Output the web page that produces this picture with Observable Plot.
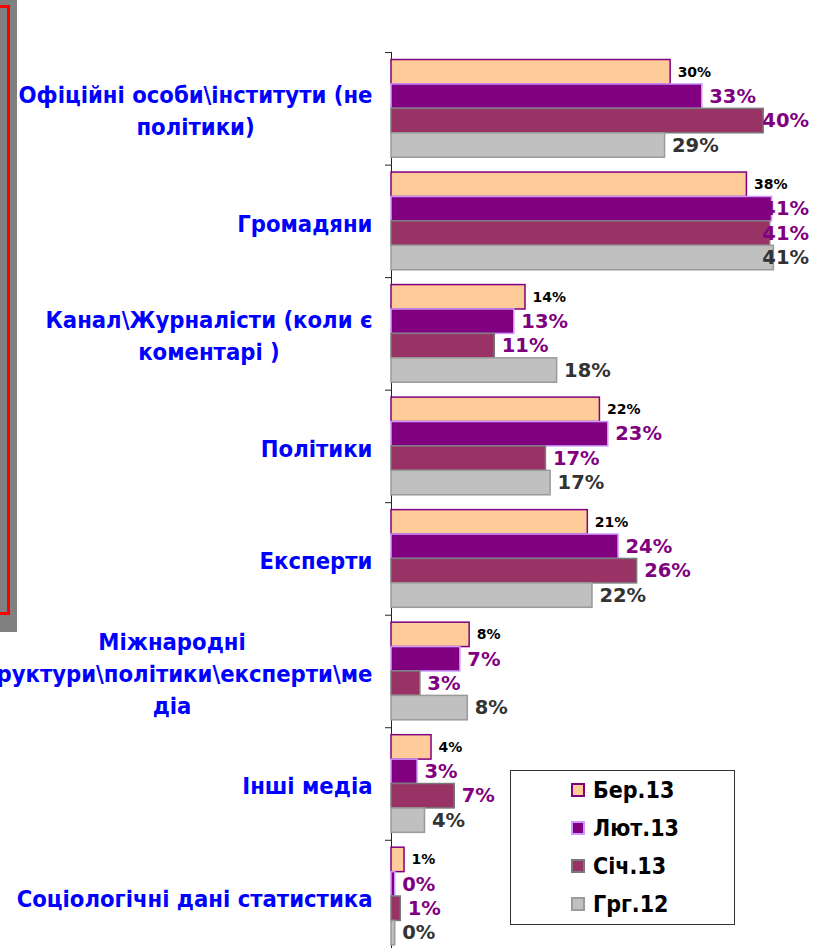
<!DOCTYPE html>
<html>
<head>
<meta charset="utf-8">
<script src="https://cdn.jsdelivr.net/npm/d3@7"></script>
<script src="https://cdn.jsdelivr.net/npm/@observablehq/plot@0.6"></script>
<style>
  html, body { margin: 0; padding: 0; background: #fff; overflow: hidden; }
  #wrap { position: relative; width: 821px; height: 948px; overflow: hidden; }
  #chart { position: absolute; left: 0; top: 0; }
  .deco-gray { position: absolute; left: 0; top: 0; width: 16.5px; height: 632px; background: #808080; }
  .deco-red { position: absolute; left: -30px; top: 5px; width: 34px; height: 604px; border: 3px solid #ff0000; }
  #legend { position: absolute; left: 510px; top: 770px; width: 223px; height: 153px; border: 1px solid #333; background: #fff; box-sizing: content-box; }
  #legend .row { position: absolute; left: 60px; height: 30px; display: flex; align-items: center; }
  #legend .sw { width: 10px; height: 10px; border: 2px solid; margin-right: 8px; }
  #legend .lab { font-family: "DejaVu Sans Condensed", "Liberation Sans", sans-serif; font-weight: bold; font-size: 23px; color: #000; }
</style>
</head>
<body>
<div id="wrap">
  <div id="chart"></div>
  <div class="deco-gray"></div>
  <div class="deco-red"></div>
  <div id="legend"></div>
</div>
<script>
// ---- data ----
const categories = [
  "Офіційні особи\\інститути (не політики)",
  "Громадяни",
  "Канал\\Журналісти (коли є коментарі )",
  "Політики",
  "Експерти",
  "Міжнародні структури\\політики\\експерти\\медіа",
  "Інші медіа",
  "Соціологічні дані статистика"
];
const categoryLines = [
  "Офіційні особи\\інститути (не\nполітики)",
  "Громадяни",
  "Канал\\Журналісти (коли є\nкоментарі )",
  "Політики",
  "Експерти",
  "Міжнародні\nструктури\\політики\\експерти\\ме\nдіа",
  "Інші медіа",
  "Соціологічні дані статистика"
];
const series = ["Бер.13", "Лют.13", "Січ.13", "Грг.12"];
const ber13  = [30.0, 38.2, 14.4, 22.4, 21.1, 8.4, 4.3, 1.4];
const lyut13 = [33.4, 40.9, 13.2, 23.3, 24.4, 7.4, 2.8, 0.4];
const sich13 = [40.0, 40.7, 11.1, 16.6, 26.4, 3.1, 6.8, 1.0];
const grg12  = [29.4, 41.1, 17.8, 17.1, 21.6, 8.2, 3.6, 0.4];
const seriesValues = [ber13, lyut13, sich13, grg12];

// ---- styles ----
const fills = ["#FFCC99", "#800080", "#993366", "#C0C0C0"];
const strokes = ["#800080", "#CC99FF", "#7A7A7A", "#9A9A9A"];
const labelColors = ["#000000", "#800080", "#800080", "#333333"];
const labelSizes = [14, 19.5, 19.5, 19.5];

const rows = categories.flatMap((c, i) =>
  series.map((s, j) => ({category: c, series: s, si: j, value: seriesValues[j][i]}))
);
const lineOf = new Map(categories.map((c, i) => [c, categoryLines[i]]));

const plot = Plot.plot({
  width: 821,
  height: 952,
  marginLeft: 391,
  marginRight: 2,
  marginTop: 53,
  marginBottom: 0.6,
  style: {background: "transparent", overflow: "visible"},
  x: {domain: [0, 46], axis: null},
  y: {domain: series, padding: 0, axis: null, round: false},
  fy: {domain: categories, paddingInner: 0.132, paddingOuter: 0.058, round: false, label: null},
  marks: [
    Plot.ruleX([0], {insetTop: -7.6, insetBottom: -7.6, stroke: "#222", strokeWidth: 1}),
    Plot.axisFy({anchor: "left", tickSize: 6, tickFormat: () => "", dy: -56.27, stroke: "#222", label: null}),
    Plot.barX(rows, {
      fy: "category", y: "series", x: "value",
      fill: d => fills[d.si], stroke: d => strokes[d.si], strokeWidth: 1.5
    }),
    Plot.text(rows, {
      fy: "category", y: "series", x: "value",
      text: d => Math.round(d.value) + "%",
      textAnchor: "start", dx: 7,
      fill: d => labelColors[d.si], fontSize: d => labelSizes[d.si],
      fontWeight: "bold", fontFamily: "DejaVu Sans",
      ariaLabel: () => "value-label"
    }),
    Plot.text(categories, {
      fy: d => d, text: d => lineOf.get(d),
      frameAnchor: "left", textAnchor: "end", dx: -19,
      lineHeight: 1.35, fontSize: 23.6, fontWeight: "bold",
      fontFamily: "DejaVu Sans Condensed, Liberation Sans, sans-serif",
      fill: "#0000FF", ariaLabel: () => "category-label"
    })
  ]
});
document.getElementById("chart").appendChild(plot);

// clamp value labels inside the chart area (as the original does)
const svgRect = plot.getBoundingClientRect();
plot.querySelectorAll('text[aria-label="value-label"]').forEach(t => {
  const r = t.getBoundingClientRect();
  const over = (r.right - svgRect.left) - 809;
  if (over > 0) {
    const tr = t.getAttribute("transform") || "";
    t.setAttribute("transform", tr + ` translate(${-over},0)`);
  }
});
// center lines of multi-line category labels within their right-aligned block
plot.querySelectorAll('text[aria-label="category-label"]').forEach(t => {
  const spans = t.querySelectorAll("tspan");
  if (spans.length > 1) {
    let w = 0;
    spans.forEach(s => { w = Math.max(w, s.getComputedTextLength()); });
    t.setAttribute("text-anchor", "middle");
    spans.forEach(s => s.setAttribute("x", -w / 2));
  }
});

// legend
const legend = document.getElementById("legend");
series.forEach((s, j) => {
  const row = document.createElement("div");
  row.className = "row";
  row.style.top = (4 + j * 38) + "px";
  const sw = document.createElement("div");
  sw.className = "sw";
  sw.style.background = fills[j];
  sw.style.borderColor = strokes[j];
  const lab = document.createElement("span");
  lab.className = "lab";
  lab.textContent = s;
  row.appendChild(sw);
  row.appendChild(lab);
  legend.appendChild(row);
});
</script>
</body>
</html>
